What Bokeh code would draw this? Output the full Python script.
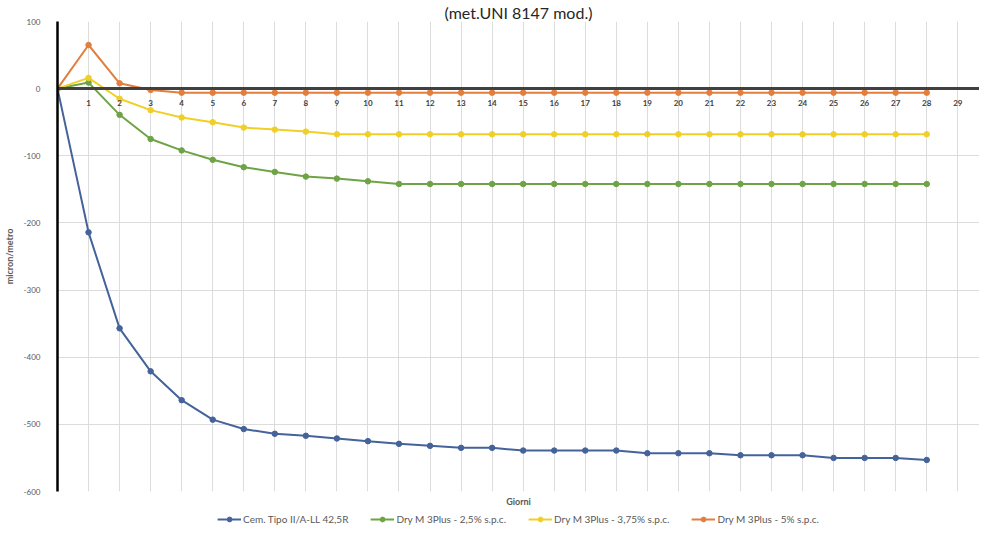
from bokeh.plotting import figure
from bokeh.layouts import column
from bokeh.models import LinearAxis, FixedTicker, Legend, LegendItem, Title
from bokeh.embed import file_html
from bokeh.resources import INLINE

# ---- data ----
giorni = list(range(0, 29))
cem_tipo = [0, -214, -357, -421, -464, -493, -507, -514, -517, -521, -525, -529, -532, -535,
            -535, -539, -539, -539, -539, -543, -543, -543, -546, -546, -546, -550, -550, -550, -553]
dry_25 = [0, 9, -39, -75, -92, -106, -117, -124, -131, -134, -138, -142, -142, -142, -142,
          -142, -142, -142, -142, -142, -142, -142, -142, -142, -142, -142, -142, -142, -142]
dry_375 = [0, 16, -15, -32, -43, -50, -58, -61, -64, -68, -68, -68, -68, -68, -68,
           -68, -68, -68, -68, -68, -68, -68, -68, -68, -68, -68, -68, -68, -68]
dry_5 = [0, 65, 8, -2, -6, -6, -6, -6, -6, -6, -6, -6, -6, -6, -6,
         -6, -6, -6, -6, -6, -6, -6, -6, -6, -6, -6, -6, -6, -6]
series_labels = ["Cem. Tipo II/A-LL 42,5R", "Dry M 3Plus - 2,5% s.p.c.",
                 "Dry M 3Plus - 3,75% s.p.c.", "Dry M 3Plus - 5% s.p.c."]
series_values = [cem_tipo, dry_25, dry_375, dry_5]
x_ticks = list(range(1, 31))
y_ticks = [100, 0, -100, -200, -300, -400, -500, -600]
title_text = "(met.UNI 8147 mod.)"
x_label = "Giorni"
y_label = "micron/metro"

colors = ["#44639a", "#6ea445", "#f0d028", "#e27f3e"]
FONT = "Lato"

p = figure(width=979, height=509, x_range=(0, 29.7), y_range=(-600, 100),
           output_backend="svg", toolbar_location=None, x_axis_location=None,
           min_border_left=49, min_border_right=0, min_border_top=0, min_border_bottom=18)
p.outline_line_color = None
p.background_fill_color = "white"

# Title (top)
p.add_layout(Title(text=title_text, align="center", text_font=FONT, text_font_size="16px",
                   text_font_style="normal", text_color="#262626", standoff=0), "above")

# Y axis
ya = p.yaxis[0]
ya.ticker = FixedTicker(ticks=y_ticks)
ya.major_label_overrides = {v: str(v) for v in y_ticks}
ya.axis_line_color = "black"
ya.axis_line_width = 2.5
ya.major_tick_line_color = None
ya.minor_tick_line_color = None
ya.major_label_text_font = FONT
ya.major_label_text_font_size = "8px"
ya.major_label_text_color = "#595959"
ya.major_label_standoff = 11
ya.axis_label = y_label
ya.axis_label_text_font = FONT
ya.axis_label_text_font_size = "9px"
ya.axis_label_text_font_style = "bold"
ya.axis_label_text_color = "#595959"
ya.axis_label_standoff = 6

# Grids
p.xgrid.ticker = FixedTicker(ticks=list(range(0, 31)))
p.xgrid.grid_line_color = "#dcdcdc"
p.ygrid.ticker = FixedTicker(ticks=y_ticks)
p.ygrid.grid_line_color = "#dcdcdc"

# Series
for vals, col in zip(series_values, colors):
    p.line(giorni, vals, line_color=col, line_width=2)
    p.scatter(giorni, vals, size=5.5, fill_color=col, line_color=col)

# Horizontal axis crossing at y = 0
zx = LinearAxis(fixed_location=0, ticker=FixedTicker(ticks=x_ticks))
zx.axis_line_color = "#404040"
zx.axis_line_width = 3
zx.major_tick_line_color = None
zx.minor_tick_line_color = None
zx.major_label_text_font = FONT
zx.major_label_text_font_size = "8px"
zx.major_label_text_font_style = "bold"
zx.major_label_text_color = "#404040"
zx.major_label_standoff = 5
p.add_layout(zx, "below")

# "Giorni" title below the plot area
p.add_layout(Title(text=x_label, align="center", text_font=FONT, text_font_size="9px",
                   text_font_style="bold", text_color="#595959", standoff=5), "below")

# Legend strip (separate small figure under the chart; its series lie outside its view)
lf = figure(width=979, height=20, output_backend="svg", toolbar_location=None,
            x_axis_location=None, y_axis_location=None, x_range=(100, 101), y_range=(100, 101),
            min_border_left=30, min_border_right=0, min_border_top=0, min_border_bottom=0)
lf.outline_line_color = None
lf.xgrid.visible = False
lf.ygrid.visible = False
items = []
for vals, col, lab in zip(series_values, colors, series_labels):
    lr = lf.line(giorni, vals, line_color=col, line_width=2)
    sr = lf.scatter(giorni, vals, size=5.5, fill_color=col, line_color=col)
    items.append(LegendItem(label=lab, renderers=[lr, sr]))
legend = Legend(items=items, orientation="horizontal", location="center",
                label_text_font=FONT, label_text_font_size="10px",
                label_text_color="#595959", glyph_width=24, glyph_height=12,
                label_standoff=2, spacing=22, padding=0, margin=0,
                border_line_color=None, background_fill_alpha=0)
lf.add_layout(legend)

layout = column(p, lf, spacing=0)
open("out.html", "w").write(file_html(layout, INLINE))
